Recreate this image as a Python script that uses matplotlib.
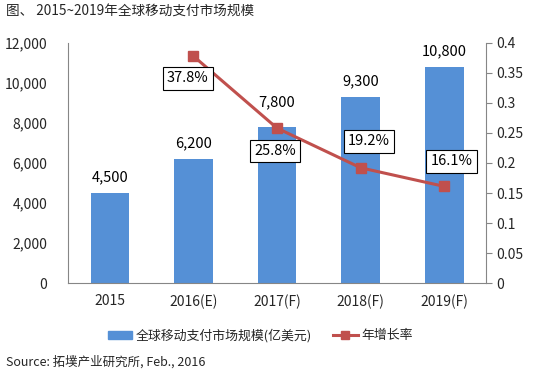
import matplotlib
matplotlib.use("Agg")
import matplotlib.pyplot as plt
import numpy as np

plt.rcParams['font.family'] = ['Noto Sans CJK SC', 'DejaVu Sans']

categories = ["2015", "2016(E)", "2017(F)", "2018(F)", "2019(F)"]
market = [4500, 6200, 7800, 9300, 10800]
growth_cats = ["2016(E)", "2017(F)", "2018(F)", "2019(F)"]
growth = [0.378, 0.258, 0.192, 0.161]
growth_labels = ["37.8%", "25.8%", "19.2%", "16.1%"]
left_ticks = [0, 2000, 4000, 6000, 8000, 10000, 12000]
right_ticks = [0, 0.05, 0.1, 0.15, 0.2, 0.25, 0.3, 0.35, 0.4]

bar_color = "#5590D6"
line_color = "#C0504D"
text_color = "#262626"
axis_color = "#868686"

fig = plt.figure(figsize=(5.39, 3.76), dpi=100)
ax = fig.add_axes([0.126, 0.247, 0.776, 0.639])
x = np.arange(len(categories))
ax.bar(x, market, width=0.46, color=bar_color, zorder=2)
ax.set_xlim(-0.5, len(categories) - 0.5)
ax.set_ylim(0, 12000)
ax.set_yticks(left_ticks)
ax.set_yticklabels([f"{v:,}" for v in left_ticks], fontsize=10, color=text_color)
ax.set_xticks(x)
ax.set_xticklabels(categories, fontsize=10, color=text_color)
ax.tick_params(axis='y', length=0, pad=15)
ax.tick_params(axis='x', length=0, pad=8)
for s in ['top', 'right']:
    ax.spines[s].set_visible(False)
for s in ['left', 'bottom']:
    ax.spines[s].set_color(axis_color)
    ax.spines[s].set_linewidth(0.8)
label_lift = [6, 6, 12.5, 6, 6]
for xi, v, lift in zip(x, market, label_lift):
    ax.annotate(f"{v:,}", (xi, v), xytext=(0, lift), textcoords='offset points',
                ha='center', va='bottom', fontsize=10.5, color='black')

ax2 = ax.twinx()
gx = [categories.index(c) for c in growth_cats]
ax2.plot(gx, growth, color=line_color, lw=2.2, marker='s', markersize=6.5, zorder=3)
ax2.set_ylim(0, 0.4)
ax2.set_yticks(right_ticks)
ax2.set_yticklabels([f"{v:g}" for v in right_ticks], fontsize=10, color=text_color)
ax2.tick_params(axis='y', length=4, color=axis_color, pad=3)
for s in ['top', 'left', 'bottom']:
    ax2.spines[s].set_visible(False)
ax2.spines['right'].set_color(axis_color)
ax2.spines['right'].set_linewidth(0.8)

offsets = [(-4, -16), (-1.5, -16.5), (6, 19), (5, 18)]
for xi, v, lab, off in zip(gx, growth, growth_labels, offsets):
    ax2.annotate(lab, (xi, v), xytext=off, textcoords='offset points',
                 ha='center', va='center', fontsize=10.5, color='black',
                 bbox=dict(boxstyle='square,pad=0.3', fc='white', ec='black', lw=0.8),
                 zorder=5)

fig.text(0.011, 0.968, "图、 2015~2019年全球移动支付市场规模", fontsize=9.8,
         color=text_color, va='center', ha='left')

from matplotlib.patches import Patch
from matplotlib.lines import Line2D
handles = [Patch(color=bar_color, label="全球移动支付市场规模(亿美元)"),
           Line2D([], [], color=line_color, lw=2.2, marker='s', markersize=6,
                  label="年增长率")]
fig.legend(handles=handles, loc='center', bbox_to_anchor=(0.483, 0.108), ncol=2,
           frameon=False, fontsize=9.3, handlelength=1.9, handleheight=0.6,
           columnspacing=1.6, handletextpad=0.3, labelcolor=text_color)

fig.text(0.011, 0.037, "Source: 拓墣产业研究所, Feb., 2016", fontsize=9,
         color=text_color, va='center', ha='left')

fig.savefig("out.png", dpi=100)
